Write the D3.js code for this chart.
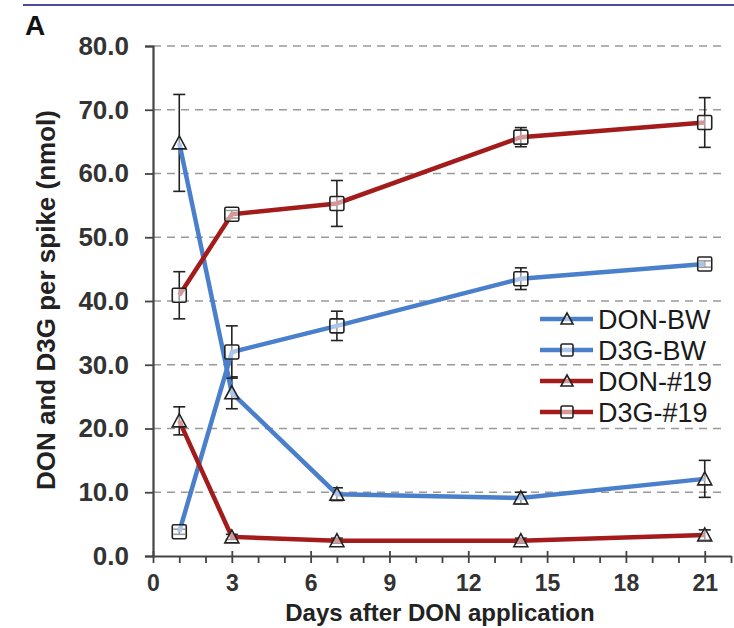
<!DOCTYPE html>
<html>
<head>
<meta charset="utf-8">
<script src="https://cdn.jsdelivr.net/npm/d3@7"></script>
<style>
  body { margin: 0; background: #fff; }
  svg { display: block; }
</style>
</head>
<body>
<div id="chart"></div>
<script>
// data
const days = [1, 3, 7, 14, 21];
const donBW = [64.8, 25.6, 9.7, 9.1, 12.1];
const donBWErr = [7.6, 2.5, 1.0, 0.9, 2.9];
const d3gBW = [3.8, 32.0, 36.1, 43.5, 45.8];
const d3gBWErr = [0.4, 4.1, 2.3, 1.7, 0.5];
const don19 = [21.2, 3.0, 2.4, 2.4, 3.3];
const don19Err = [2.2, 0.4, 0.4, 0.4, 0.8];
const d3g19 = [40.9, 53.6, 55.3, 65.7, 68.0];
const d3g19Err = [3.7, 0.6, 3.6, 1.5, 3.9];
const yTicks = [0, 10, 20, 30, 40, 50, 60, 70, 80];
const xTicks = [0, 3, 6, 9, 12, 15, 18, 21];

const series = [
  { name: "DON-BW", values: donBW, err: donBWErr, color: "#4a7fcc", shape: "tri" },
  { name: "D3G-BW", values: d3gBW, err: d3gBWErr, color: "#4a7fcc", shape: "sq" },
  { name: "DON-#19", values: don19, err: don19Err, color: "#a31b1b", shape: "tri" },
  { name: "D3G-#19", values: d3g19, err: d3g19Err, color: "#a31b1b", shape: "sq" }
];

const W = 734, H = 628;
const margin = { top: 46, right: 3, bottom: 72, left: 153 };
const width = W - margin.left - margin.right;
const height = H - margin.top - margin.bottom;
const font = "Liberation Sans, Arial, sans-serif";

const svg = d3.select("#chart").append("svg")
  .attr("width", W).attr("height", H);

// top rule and panel letter
svg.append("line")
  .attr("x1", 23).attr("x2", W).attr("y1", 5).attr("y2", 5)
  .attr("stroke", "#4b4b9c").attr("stroke-width", 2);
svg.append("text")
  .attr("x", 25).attr("y", 35)
  .style("font-family", font)
  .style("font-weight", "bold").style("font-size", "28px")
  .attr("fill", "#111").text("A");

const g = svg.append("g")
  .attr("transform", "translate(" + margin.left + "," + margin.top + ")");

const x = d3.scaleLinear().domain([0, 22]).range([0, width]);
const y = d3.scaleLinear().domain([0, 80]).range([height, 0]);

// dashed gridlines
g.append("g")
  .selectAll("line")
  .data(yTicks.filter(d => d > 0))
  .join("line")
  .attr("x1", 0).attr("x2", x(21.8))
  .attr("y1", d => y(d)).attr("y2", d => y(d))
  .attr("stroke", "#9a9a9a").attr("stroke-width", 1.6)
  .attr("stroke-dasharray", "8,6");

// y axis
const yAxis = g.append("g")
  .call(d3.axisLeft(y).tickValues(yTicks).tickFormat(d3.format(".1f")).tickSize(8).tickPadding(16));
yAxis.select(".domain").attr("stroke", "#444").attr("stroke-width", 2.2);
yAxis.selectAll(".tick line").attr("stroke", "#444").attr("stroke-width", 1.8);
yAxis.selectAll("text")
  .style("font-family", font)
  .style("font-size", "26px").style("font-weight", "bold")
  .attr("fill", "#333");

// x axis with minor ticks
const xAxis = g.append("g")
  .attr("transform", "translate(0," + height + ")")
  .call(d3.axisBottom(x).tickValues(d3.range(0, 23)).tickSize(7).tickSizeOuter(0).tickPadding(12)
    .tickFormat(d => xTicks.includes(d) ? d : ""));
xAxis.select(".domain").attr("stroke", "#444").attr("stroke-width", 2.2);
xAxis.selectAll(".tick line").attr("stroke", "#444").attr("stroke-width", 1.8)
  .attr("y1", d => xTicks.includes(d) ? -5 : 0);
xAxis.selectAll("text")
  .style("font-family", font)
  .style("font-size", "23px").style("font-weight", "bold")
  .attr("fill", "#333");

// axis titles
svg.append("text")
  .attr("transform", "rotate(-90)")
  .attr("x", -300).attr("y", 55)
  .attr("text-anchor", "middle")
  .style("font-family", font)
  .style("font-size", "26px").style("font-weight", "bold")
  .attr("fill", "#222")
  .text("DON and D3G per spike (nmol)");
svg.append("text")
  .attr("x", 440).attr("y", 621)
  .attr("text-anchor", "middle")
  .style("font-family", font)
  .style("font-size", "24px").style("font-weight", "bold")
  .attr("fill", "#222")
  .text("Days after DON application");

const line = d3.line()
  .x((d, i) => x(days[i]))
  .y(d => y(d));

function marker(sel, shape, r) {
  if (shape === "tri") {
    sel.append("path").attr("d", "M0," + (-r) + " L" + r + "," + (r - 1) + " L" + (-r) + "," + (r - 1) + " Z");
  } else {
    sel.append("rect").attr("x", -r).attr("y", -r).attr("width", 2 * r).attr("height", 2 * r).attr("rx", 1.5);
  }
  sel.selectAll("path, rect")
    .attr("fill", "rgba(255,255,255,0.55)")
    .attr("stroke", "#222").attr("stroke-width", 1.6);
}

series.forEach(s => {
  const sg = g.append("g");
  // error bars
  const eb = sg.selectAll(".eb").data(s.values).join("g").attr("class", "eb");
  eb.append("line")
    .attr("x1", (d, i) => x(days[i])).attr("x2", (d, i) => x(days[i]))
    .attr("y1", (d, i) => y(d + s.err[i])).attr("y2", (d, i) => y(d - s.err[i]));
  eb.append("line")
    .attr("x1", (d, i) => x(days[i]) - 6).attr("x2", (d, i) => x(days[i]) + 6)
    .attr("y1", (d, i) => y(d + s.err[i])).attr("y2", (d, i) => y(d + s.err[i]));
  eb.append("line")
    .attr("x1", (d, i) => x(days[i]) - 6).attr("x2", (d, i) => x(days[i]) + 6)
    .attr("y1", (d, i) => y(d - s.err[i])).attr("y2", (d, i) => y(d - s.err[i]));
  eb.selectAll("line").attr("stroke", "#222").attr("stroke-width", 1.6);

  sg.append("path")
    .datum(s.values)
    .attr("fill", "none")
    .attr("stroke", s.color)
    .attr("stroke-width", 4.5)
    .attr("d", line);

  sg.selectAll(".mk").data(s.values).join("g").attr("class", "mk")
    .attr("transform", (d, i) => "translate(" + x(days[i]) + "," + y(d) + ")")
    .each(function() { marker(d3.select(this), s.shape, 7); });
});

// legend
const legend = svg.append("g").attr("transform", "translate(540,319)");
series.forEach((s, i) => {
  const row = legend.append("g").attr("transform", "translate(0," + (i * 31) + ")");
  row.append("line").attr("x1", 0).attr("x2", 53).attr("y1", 0).attr("y2", 0)
    .attr("stroke", s.color).attr("stroke-width", 4.5);
  const m = row.append("g").attr("transform", "translate(27,0)");
  marker(m, s.shape, 6);
  row.append("text")
    .attr("x", 58).attr("y", 0).attr("dy", "0.36em")
    .style("font-family", font)
    .style("font-size", "27px")
    .attr("fill", "#1a1a1a")
    .text(s.name);
});
</script>
</body>
</html>
